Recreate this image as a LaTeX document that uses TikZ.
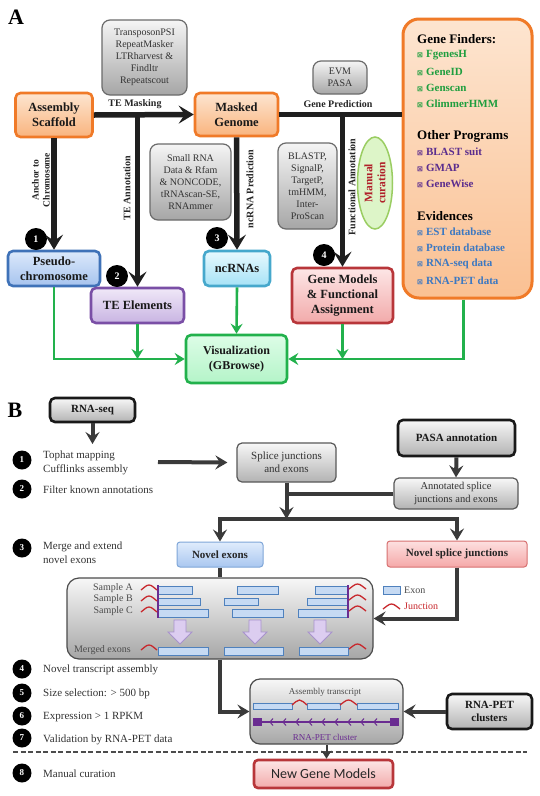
\documentclass[tikz,border=0pt]{standalone}
\usepackage{fontspec}
\setmainfont{Liberation Serif}
\newfontfamily\symfont{DejaVu Sans}
\newfontfamily\calfont{Carlito}
\usetikzlibrary{arrows.meta,shapes.geometric,calc}
\definecolor{orbd}{HTML}{F07A28}
\definecolor{ortop}{HTML}{FDE5D0}
\definecolor{orbot}{HTML}{F9B47E}
\definecolor{bluebd}{HTML}{3F72B8}
\definecolor{bluetop}{HTML}{DCE9FB}
\definecolor{bluebot}{HTML}{A6C3EE}
\definecolor{purbd}{HTML}{7A4FA6}
\definecolor{purtop}{HTML}{F0E8F8}
\definecolor{purbot}{HTML}{C8B4E2}
\definecolor{cybd}{HTML}{46A8CC}
\definecolor{cytop}{HTML}{E8F9FE}
\definecolor{cybot}{HTML}{A6E2F6}
\definecolor{redbd}{HTML}{B8363A}
\definecolor{redtop}{HTML}{FDE6E6}
\definecolor{redbot}{HTML}{F2AAAA}
\definecolor{grbd}{HTML}{22B14C}
\definecolor{grtop}{HTML}{DDFDE7}
\definecolor{grbot}{HTML}{B4F4C8}
\definecolor{gtxt}{HTML}{1E9E3E}
\definecolor{ptxt}{HTML}{5B2D8E}
\definecolor{btxt}{HTML}{3B78C2}
\definecolor{toolbd}{HTML}{6B6B6B}
\definecolor{darkln}{HTML}{3A3A3A}
\definecolor{exbd}{HTML}{4F81BD}
\definecolor{exfill}{HTML}{C6DAF3}
\definecolor{jnred}{HTML}{C8282D}
\definecolor{petpur}{HTML}{6A2C91}
\definecolor{fatfill}{HTML}{DCCDF0}
\definecolor{fatbd}{HTML}{A892CC}
\definecolor{mantext}{HTML}{B0202A}
\definecolor{manfill}{HTML}{DDF5C8}
\definecolor{manbd}{HTML}{9ACD62}
\definecolor{nebd}{HTML}{7FA6D8}
\definecolor{netop}{HTML}{E0ECFC}
\definecolor{nebot}{HTML}{A9C7F0}
\definecolor{nsbd}{HTML}{D77070}
\definecolor{nstop}{HTML}{FDE0E0}
\definecolor{nsbot}{HTML}{F5A8A8}
\newcommand\jcaret[3]{\draw[jn] (#1,#3) .. controls ({#1+3},{#3-2}) and ({(#1+#2)/2-3},{#3-5}) .. ({(#1+#2)/2},{#3-5}) .. controls ({(#1+#2)/2+3},{#3-5}) and ({#2-3},{#3-2}) .. (#2,#3);}
\newcommand\bx{{\symfont\fontsize{7}{7}\selectfont ⊠}\hspace{3pt}}
\begin{document}
\begin{tikzpicture}[x=1pt,y=-1pt,
  sz/.style 2 args={minimum width=#1pt, minimum height=#2pt},
  abox/.style={rounded corners=5pt, line width=2.6pt, align=center, inner sep=1pt, font=\fontsize{12.5}{15}\selectfont\bfseries, text=black!90},
  obox/.style={abox, draw=orbd, top color=ortop, bottom color=orbot},
  tbox/.style={rounded corners=8pt, draw=toolbd, line width=1.2pt, top color=black!4, bottom color=black!35, align=center, inner sep=1pt, text=black!80, font=\fontsize{10}{12}\selectfont},
  blk/.style={line width=5.5pt, draw=black!88, -{Stealth[length=15pt,width=18pt,inset=6pt]}},
  blkl/.style={line width=5.5pt, draw=black!88},
  grn/.style={line width=2.6pt, draw=grbd, -{Stealth[length=10pt,width=12pt,inset=3.5pt]}},
  lab/.style={font=\fontsize{10}{11}\selectfont\bfseries, text=black!85, inner sep=0pt},
  num/.style={circle, fill=black, text=white, inner sep=0pt, minimum size=22pt, font=\fontsize{10}{10}\selectfont\bfseries},
  fitem/.style={anchor=west, inner sep=0pt, font=\fontsize{11}{13}\selectfont\bfseries},
  fhead/.style={anchor=west, inner sep=0pt, font=\fontsize{13}{15}\selectfont\bfseries, text=black},
  bnum/.style={circle, fill=black, text=white, inner sep=0pt, minimum size=19pt, font=\fontsize{9}{9}\selectfont\bfseries},
  btxt/.style={anchor=west, align=left, inner sep=0pt, text=black!80, font=\fontsize{11}{14}\selectfont},
  gbox/.style={rounded corners=5pt, draw=black!65, line width=1.2pt, top color=black!3, bottom color=black!30, align=center, inner sep=1pt, text=black!80, font=\fontsize{11}{13}\selectfont},
  kbox/.style={gbox, draw=black!90, line width=2.6pt, font=\fontsize{11}{13.5}\selectfont\bfseries, text=black!90},
  nbox/.style={rounded corners=3pt, line width=1pt, font=\fontsize{11}{13}\selectfont\bfseries, text=black!85, inner sep=1pt},
  darr/.style={line width=4pt, draw=darkln, -{Stealth[length=12pt,width=14pt,inset=4.5pt]}},
  sarr/.style={line width=2pt, draw=darkln, -{Stealth[length=8pt,width=10pt]}},
  dln/.style={line width=4pt, draw=darkln},
  exon/.style={draw=exbd, fill=exfill, line width=0.9pt},
  jn/.style={draw=jnred, line width=1.3pt},
  small/.style={font=\fontsize{10}{12}\selectfont, text=black!70, inner sep=0pt}
]
\fill[white] (0,0) rectangle (540,796);
\useasboundingbox (0,0) rectangle (540,796);

% ---------------- Part A ----------------
\node[font=\fontsize{22}{22}\selectfont\bfseries] (labA) at (16,17) {A};
\node[tbox, sz={85}{75}] (tools) at (144.5,57.5) {TransposonPSI\\RepeatMasker\\LTRharvest \&\\Findltr\\Repeatscout};
\node[obox, sz={77}{44}] (scaf) at (54,115) {Assembly\\Scaffold};
\node[obox, sz={83}{43}] (masked) at (236.5,114.5) {Masked\\Genome};
\node[tbox, sz={54}{33}] (evm) at (340,77.5) {EVM\\PASA};
\node[draw=orbd, line width=3pt, rounded corners=16pt, top color=ortop, bottom color=orbot!75!ortop, sz={129}{279}] (finders) at (467.5,158.5) {};

\node[fhead] (fh1) at (417,39) {Gene Finders:};
\node[fitem, text=gtxt] (f1) at (417,55) {\bx FgenesH};
\node[fitem, text=gtxt] (f2) at (417,72) {\bx GeneID};
\node[fitem, text=gtxt] (f3) at (417,88) {\bx Genscan};
\node[fitem, text=gtxt] (f4) at (417,104) {\bx GlimmerHMM};
\node[fhead] (fh2) at (417,136) {Other Programs};
\node[fitem, text=ptxt] (f5) at (417,152) {\bx BLAST suit};
\node[fitem, text=ptxt] (f6) at (417,168) {\bx GMAP};
\node[fitem, text=ptxt] (f7) at (417,184) {\bx GeneWise};
\node[fhead] (fh3) at (417,216) {Evidences};
\node[fitem, text=btxt] (f8) at (417,232) {\bx EST database};
\node[fitem, text=btxt] (f9) at (417,248) {\bx Protein database};
\node[fitem, text=btxt] (f10) at (417,264) {\bx RNA-seq data};
\node[fitem, text=btxt] (f11) at (417,281) {\bx RNA-PET data};

\node[abox, draw=bluebd, top color=bluetop, bottom color=bluebot, sz={92}{35}] (pseudo) at (54,268.5) {Pseudo-\\chromosome};
\node[abox, draw=purbd, top color=purtop, bottom color=purbot, sz={93}{35}] (te) at (137.5,305.5) {TE Elements};
\node[tbox, sz={81}{76}] (smallrna) at (190.5,182) {Small RNA\\Data \& Rfam\\\& NONCODE,\\tRNAscan-SE,\\RNAmmer};
\node[abox, draw=cybd, top color=cytop, bottom color=cybot, sz={66}{35}] (ncrna) at (237,268.5) {ncRNAs};
\node[tbox, sz={59}{86}] (blastp) at (307.5,186) {BLASTP,\\SignalP,\\TargetP,\\tmHMM,\\Inter-\\ProScan};
\node[abox, draw=redbd, top color=redtop, bottom color=redbot, sz={101}{55}] (genem) at (342.5,295.5) {Gene Models\\\& Functional\\Assignment};
\node[ellipse, draw=manbd, fill=manfill, line width=1.5pt, rotate=90, minimum width=92pt, minimum height=35pt, inner sep=0pt, align=center, text=mantext, font=\fontsize{11.5}{13}\selectfont\bfseries] (manual) at (375,183) {Manual\\curation};
\node[abox, draw=grbd, top color=grtop, bottom color=grbot, sz={101}{48}, font=\fontsize{12}{15}\selectfont\bfseries] (vis) at (236.5,359) {Visualization\\(GBrowse)};

% black connectors
\draw[blk] (scaf.east) -- (masked.west);
\draw[blkl] (masked.east) -- (masked.east -| finders.west);
\draw[blk] (scaf.east -| te.north) -- (te.north);
\draw[blk] (scaf.south) -- (pseudo.north);
\draw[blk] (masked.south) -- (ncrna.north);
\draw[blk] (masked.east -| genem.north) -- (genem.north);

% labels
\node[lab] (lmask) at (135,104) {TE Masking};
\node[lab] (lgp) at (338,104) {Gene Prediction};
\node[lab, rotate=90, align=center, font=\fontsize{9.5}{11}\selectfont\bfseries] (lanch) at (41,180) {Anchor to\\Chromosome};
\node[lab, rotate=90] (lte) at (127,188) {TE Annotation};
\node[lab, rotate=90] (lnc) at (250,189) {ncRNA Prediction};
\node[lab, rotate=90] (lfa) at (352,187) {Functional Annotation};

\node[num] (c1) at (36,239) {1};
\node[num] (c2) at (117,276) {2};
\node[num] (c3) at (217,238) {3};
\node[num] (c4) at (324,255) {4};

% green connectors
\draw[grn] (pseudo.south) |- (vis.west);
\draw[grn] (te.south) -- (te.south |- vis.west);
\draw[grn] (ncrna.south) -- (vis.north);
\draw[grn] (genem.south) -- (genem.south |- vis.east);
\draw[grn] ([xshift=-4pt]finders.south) |- (vis.east);

% ---------------- Part B ----------------
\node[font=\fontsize{22}{22}\selectfont\bfseries] (labB) at (15,410) {B};
\node[kbox, sz={85}{24}] (rnaseq) at (92.5,410) {RNA-seq};
\coordinate (rsend) at (92.5,444);
\draw[darr] (rnaseq.south) -- (rsend);

\node[bnum] (n1) at (22,460) {1};
\node[btxt] (s1) at (43,463) {Tophat mapping\\Cufflinks assembly};
\node[bnum] (n2) at (22,489) {2};
\node[btxt] (s2) at (43,490) {Filter known annotations};
\node[bnum] (n3) at (22,548) {3};
\node[btxt] (s3) at (43,553) {Merge and extend\\novel exons};
\node[bnum] (n4) at (22,669) {4};
\node[btxt] (s4) at (43,670) {Novel transcript assembly};
\node[bnum] (n5) at (22,693) {5};
\node[btxt] (s5) at (43,694) {Size selection: > 500 bp};
\node[bnum] (n6) at (22,716) {6};
\node[btxt] (s6) at (43,717) {Expression > 1 RPKM};
\node[bnum] (n7) at (22,738) {7};
\node[btxt] (s7) at (43,740) {Validation by RNA-PET data};
\node[bnum] (n8) at (22,773) {8};
\node[btxt] (s8) at (43,774) {Manual curation};

\coordinate (hstart) at (158,462);
\node[gbox, sz={99}{39}] (splice) at (286.5,462.5) {Splice junctions\\and exons};
\draw[darr] (hstart) -- ([xshift=-9pt]splice.west);
\node[kbox, sz={117}{36}] (pasa) at (456.5,438) {PASA annotation};
\node[gbox, sz={124}{31}, font=\fontsize{10.5}{12.5}\selectfont] (annot) at (456,493.5) {Annotated splice\\junctions and exons};
\draw[darr] (pasa.south) -- (annot.north);
\coordinate (split) at (286.5,519);
\draw[dln] (annot.west) -- (annot.west -| split);
\draw[darr] (splice.south) -- (split);
\node[nbox, draw=nebd, top color=netop, bottom color=nebot, sz={86}{25}] (novelex) at (220,554.5) {Novel exons};
\node[nbox, draw=nsbd, top color=nstop, bottom color=nsbot, sz={140}{26}] (novelsj) at (457,554) {Novel splice junctions};
\draw[darr] (split) -| (novelex.north);
\draw[darr] (split) -| (novelsj.north);

\node[rounded corners=12pt, draw=black!70, line width=1.2pt, top color=black!3, bottom color=black!35, sz={306}{81}] (mergebox) at (220,618.5) {};
\draw[dln] (novelex.south) -- (mergebox.north);
\draw[darr] (novelsj.south) |- (mergebox.east);

% merge box content
\node[small, anchor=east] (sa) at (133,588) {Sample A};
\node[small, anchor=east] (sb) at (133,599.5) {Sample B};
\node[small, anchor=east] (sc) at (133,611) {Sample C};
\node[small, anchor=east] (sm) at (131,650) {Merged exons};
\draw[exon] (158,586) rectangle (192,594);
\draw[exon] (158,598) rectangle (200,605.5);
\draw[exon] (158,609) rectangle (208,617);
\draw[exon] (158,647) rectangle (208,655);
\draw[exon] (237,586) rectangle (278,594);
\draw[exon] (224,598) rectangle (258,605.5);
\draw[exon] (232,609) rectangle (283,617);
\draw[exon] (224,647) rectangle (283,655);
\draw[exon] (315,586) rectangle (348,594);
\draw[exon] (307,598) rectangle (348,605.5);
\draw[exon] (298,609) rectangle (348,617);
\draw[exon] (299,647) rectangle (348,655);
\draw[petpur, line width=2pt] (158,585) -- (158,618);
\draw[petpur, line width=2pt] (348,585) -- (348,618);
\jcaret{141}{157}{590}
\jcaret{141}{157}{601}
\jcaret{141}{157}{612}
\jcaret{141}{157}{650}
\jcaret{349}{366}{589}
\jcaret{349}{366}{600}
\jcaret{349}{366}{611}
\jcaret{349}{366}{649}
\foreach \cx in {180,255,320}
  \draw[fill=fatfill, draw=fatbd, line width=0.8pt] ({\cx-6},620) -- ({\cx+6},620) -- ({\cx+6},632) -- ({\cx+12},632) -- (\cx,644) -- ({\cx-12},632) -- ({\cx-6},632) -- cycle;
% legend
\draw[exon] (383,586) rectangle (400,594);
\node[small, anchor=west] (lexon) at (404,590) {Exon};
\jcaret{383}{400}{609}
\node[small, anchor=west, text=jnred] (ljn) at (404,606) {Junction};

% assembly
\node[rounded corners=10pt, draw=black!70, line width=1.2pt, top color=black!3, bottom color=black!35, sz={153}{65}] (asm) at (326.5,711.5) {};
\node[kbox, sz={85}{35}] (rnapet) at (489.5,711.5) {RNA-PET\\clusters};
\draw[darr] (mergebox.south) |- (asm.west);
\draw[darr] (rnapet.west) -- (asm.east);
\node[small, font=\fontsize{9}{11}\selectfont] (asmt) at (325,692) {Assembly transcript};
\draw[exon] (253,703) rectangle (292,709.5);
\draw[exon] (307,703) rectangle (340,709.5);
\draw[exon] (357,703) rectangle (398,709.5);
\jcaret{292}{307}{705}
\jcaret{340}{357}{705}
\draw[petpur, line width=1.5pt] (258,722) -- (394,722);
\fill[petpur] (253,718) rectangle (262,726);
\fill[petpur] (390,718) rectangle (399,726);
\foreach \x in {270,283,...,384}
  \draw[petpur, line width=1pt] ({\x+3},718.5) -- (\x,722) -- ({\x+3},725.5);
\node[small, text=petpur, font=\fontsize{9}{11}\selectfont] (petlab) at (325,737) {RNA-PET cluster};

\draw[black!70, line width=1.6pt, dash pattern=on 5pt off 2.5pt] (13,752) -- (527,752);
\node[rounded corners=4pt, draw=redbd, line width=2.6pt, top color=redtop, bottom color=redbot, sz={139}{28}, font=\calfont\fontsize{14}{16}\selectfont, text=black!85] (newgm) at (323.5,774) {New Gene Models};
\draw[sarr] (asm.south) -- (asm.south |- newgm.north);
\end{tikzpicture}
\end{document}
